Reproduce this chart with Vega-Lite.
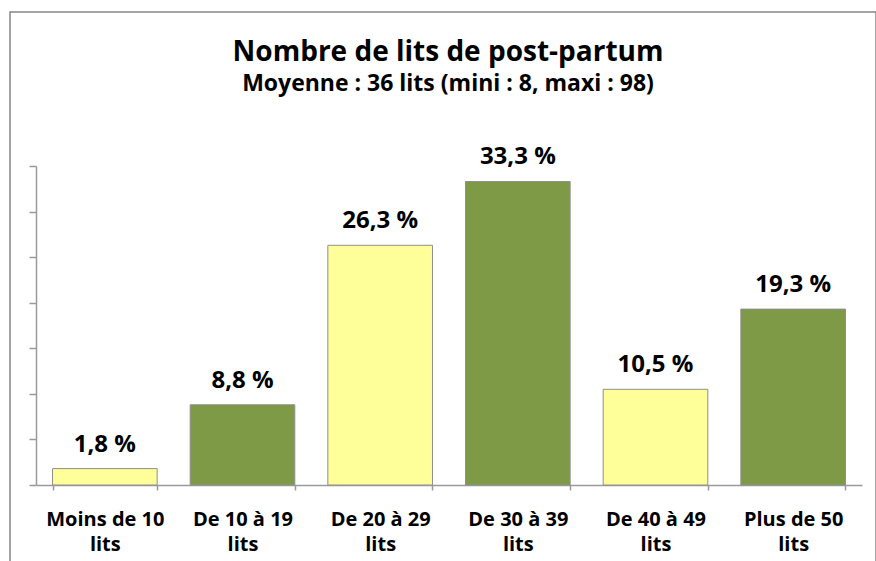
{
  "$schema": "https://vega.github.io/schema/vega-lite/v6.json",
  "width": 866,
  "height": 552,
  "autosize": {"type": "none"},
  "padding": {"left": 10, "top": 12, "right": 0, "bottom": 0},
  "background": "white",
  "config": {
    "view": {"stroke": "#868686", "strokeWidth": 1.5},
    "font": "Open Sans"
  },
  "title": {
    "text": "Nombre de lits de post-partum",
    "subtitle": "Moyenne : 36 lits (mini : 8, maxi : 98)",
    "font": "Open Sans",
    "subtitleFont": "Open Sans",
    "fontSize": 28,
    "fontWeight": "bold",
    "subtitleFontSize": 23,
    "subtitleFontWeight": "bold",
    "color": "#000000",
    "subtitleColor": "#000000",
    "anchor": "middle",
    "offset": -84,
    "subtitlePadding": 6,
    "dx": 5
  },
  "data": {
    "values": [
      {"tranche": "Moins de 10 lits", "pct": 1.8},
      {"tranche": "De 10 à 19 lits", "pct": 8.8},
      {"tranche": "De 20 à 29 lits", "pct": 26.3},
      {"tranche": "De 30 à 39 lits", "pct": 33.3},
      {"tranche": "De 40 à 49 lits", "pct": 10.5},
      {"tranche": "Plus de 50 lits", "pct": 19.3}
    ]
  },
  "transform": [
    {"calculate": "replace(format(datum.pct, '.1f'), '.', ',') + ' %'", "as": "label"}
  ],
  "encoding": {
    "x": {
      "field": "tranche",
      "type": "nominal",
      "sort": null,
      "scale": {"range": [26, 852], "paddingInner": 0.24, "paddingOuter": 0.12},
      "axis": {
        "orient": "bottom",
        "offset": -79,
        "title": null,
        "labelAngle": 0,
        "tickBand": "extent",
        "tickSize": 5,
        "domainColor": "#9a9a9a",
        "tickColor": "#9a9a9a",
        "domainWidth": 1.5,
        "tickWidth": 1.5,
        "labelFont": "Open Sans",
        "labelFontSize": 20,
        "labelFontWeight": "bold",
        "labelColor": "#000000",
        "labelPadding": 19,
        "labelLineHeight": 25,
        "labelBaseline": "top",
        "labelExpr": "datum.label ? [replace(datum.label, ' lits', ''), 'lits'] : ''"
      }
    },
    "y": {
      "field": "pct",
      "type": "quantitative",
      "scale": {"domain": [0, 35], "range": [473, 154], "nice": false},
      "axis": {
        "orient": "left",
        "offset": -26,
        "values": [0, 5, 10, 15, 20, 25, 30, 35],
        "labels": false,
        "title": null,
        "grid": false,
        "domainColor": "#9a9a9a",
        "tickColor": "#9a9a9a",
        "tickSize": 7,
        "domainWidth": 1.5,
        "tickWidth": 1.5
      }
    }
  },
  "layer": [
    {
      "mark": {"type": "bar", "stroke": "#8f8f8f", "strokeWidth": 1},
      "encoding": {
        "color": {
          "field": "tranche",
          "type": "nominal",
          "sort": null,
          "scale": {"range": ["#FFFF99", "#7E9A47", "#FFFF99", "#7E9A47", "#FFFF99", "#7E9A47"]},
          "legend": null
        }
      }
    },
    {
      "mark": {
        "type": "text",
        "baseline": "alphabetic",
        "dy": -17,
        "font": "Open Sans",
        "fontSize": 24,
        "fontWeight": "bold",
        "color": "#000000"
      },
      "encoding": {"text": {"field": "label"}}
    }
  ]
}
